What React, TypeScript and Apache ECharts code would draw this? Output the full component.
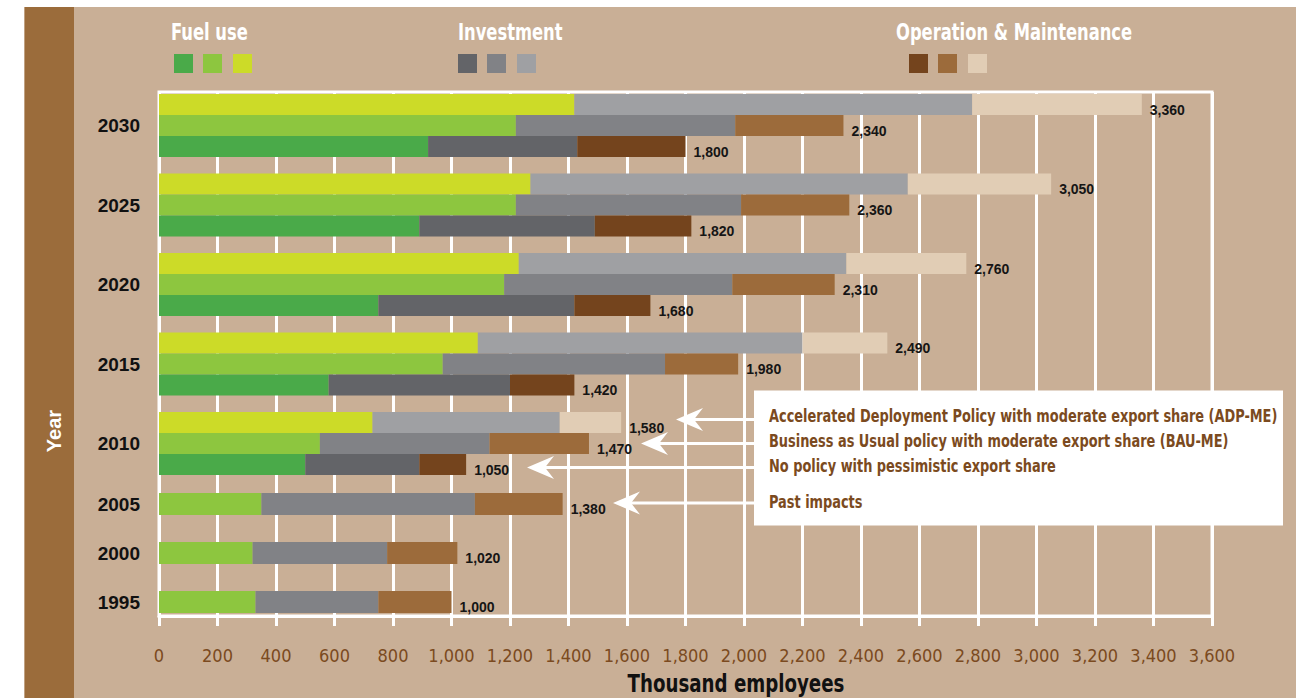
import React, { useEffect, useRef } from 'react';
import * as echarts from 'echarts';

// ---------- data ----------
const years = ['2030', '2025', '2020', '2015', '2010', '2005', '2000', '1995'];
const scenarios = ['ADP-ME', 'BAU-ME', 'No policy'];
const scenarioNotes = [
  'Accelerated Deployment Policy with moderate export share (ADP-ME)',
  'Business as Usual policy with moderate export share (BAU-ME)',
  'No policy with pessimistic export share',
  'Past impacts',
];
// Accelerated Deployment Policy (2030..2010)
const adpFuel = [1420, 1270, 1230, 1090, 730];
const adpInvest = [1360, 1290, 1120, 1110, 640];
const adpOM = [580, 490, 410, 290, 210];
// Business as usual (2030..1995; 2005-1995 are past impacts)
const bauFuel = [1220, 1220, 1180, 970, 550, 350, 320, 330];
const bauInvest = [750, 770, 780, 760, 580, 730, 460, 420];
const bauOM = [370, 370, 350, 250, 340, 300, 240, 250];
// No policy, pessimistic export (2030..2010)
const npFuel = [920, 890, 750, 580, 500];
const npInvest = [510, 600, 670, 620, 390];
const npOM = [370, 330, 260, 220, 160];

const componentNames = ['Fuel use', 'Investment', 'Operation & Maintenance'];
const xMin = 0;
const xMax = 3600;
const xInterval = 200;
const xAxisTitle = 'Thousand employees';
const yAxisTitle = 'Year';

// ---------- styles ----------
const fuelColors = ['#CCDB28', '#8DC63F', '#4AAA49'];
const investColors = ['#9FA0A3', '#818286', '#636468'];
const omColors = ['#E1CDB5', '#9C6B3B', '#74441D'];
const TAN = '#C9AF96';
const STRIP = '#9B6C3B';
const BROWN_TEXT = '#7B4A20';
const NARROW = '"Liberation Sans Narrow", "Arial Narrow", "DejaVu Sans Condensed", sans-serif';
const SANS = '"Liberation Sans", Arial, Helvetica, sans-serif';

const fmt = (v: number) => v.toLocaleString('en-US');

function buildOption() {
  const L = 159;
  const R = 1307 - 1212;
  const grids: any[] = [
    { left: L, right: R, top: 92, height: 524, show: true, borderColor: '#fff', borderWidth: 3, backgroundColor: 'transparent' },
  ];
  const xAxes: any[] = [
    {
      gridIndex: 0, type: 'value', min: xMin, max: xMax, interval: xInterval,
      axisLine: { show: true, lineStyle: { color: '#fff', width: 3 } },
      axisTick: { show: true, length: 10, lineStyle: { color: '#fff', width: 3 } },
      splitLine: { show: true, lineStyle: { color: '#fff', width: 3 } },
      axisLabel: { color: BROWN_TEXT, fontSize: 18, fontFamily: NARROW, margin: 30, formatter: (v: number) => fmt(v) },
    },
  ];
  const yAxes: any[] = [{ gridIndex: 0, type: 'value', min: 0, max: 1, show: false }];
  const series: any[] = [];

  const vals = [
    [adpFuel, bauFuel, npFuel],
    [adpInvest, bauInvest, npInvest],
    [adpOM, bauOM, npOM],
  ];
  const cols = [fuelColors, investColors, omColors];

  // layout of the year bands (pixels)
  const multiTop = 94;
  const multiPeriod = 79.5;
  const multiH = 63;
  const singleTops = [493, 542, 591];
  const singleH = 22;

  years.forEach((yr, i) => {
    const g = i + 1;
    const scen = adpFuel[i] !== undefined ? [0, 1, 2] : [1];
    const top = scen.length === 3 ? multiTop + i * multiPeriod : singleTops[i - 5];
    const height = scen.length === 3 ? multiH : singleH;
    grids.push({ left: L, right: R, top, height, show: false });
    xAxes.push({ gridIndex: g, type: 'value', min: xMin, max: xMax, show: false });
    yAxes.push({
      gridIndex: g, type: 'category', inverse: true,
      data: scen.map((s) => scenarios[s]),
      axisLine: { show: false }, axisTick: { show: false }, axisLabel: { show: false }, splitLine: { show: false },
      name: yr, nameLocation: 'middle', nameRotate: 0, nameGap: 19,
      nameTextStyle: { color: '#111', fontSize: 19, fontWeight: 'bold', fontFamily: SANS, align: 'right', verticalAlign: 'middle', padding: [3, 0, 0, 0] },
    });
    [0, 1, 2].forEach((c) => {
      series.push({
        type: 'bar', name: componentNames[c], xAxisIndex: g, yAxisIndex: g, stack: 'grp' + g,
        barCategoryGap: '0%', silent: true,
        data: scen.map((s) => ({ value: vals[c][s][i], itemStyle: { color: cols[c][s] } })),
        label: c === 2 ? {
          show: true, position: 'right', distance: 8, offset: [0, 5],
          color: '#151515', fontSize: 14, fontWeight: 'bold', fontFamily: SANS,
          formatter: (p: any) => {
            const s = scen[p.dataIndex];
            return fmt(vals[0][s][i] + vals[1][s][i] + vals[2][s][i]);
          },
        } : { show: false },
      });
    });
  });

  // legend graphic
  const legendX = [171, 458, 896];
  const swatchX = [[174, 203, 233], [458, 487, 517], [909, 938, 968]];
  const graphic: any[] = [
    { type: 'rect', z: -10, shape: { x: 24.5, y: 7, width: 1271.5, height: 700 }, style: { fill: TAN } },
    { type: 'rect', z: -9, shape: { x: 24.5, y: 7, width: 49.5, height: 700 }, style: { fill: STRIP } },
    {
      type: 'text', x: 54, y: 431, rotation: Math.PI / 2, z: 10,
      style: { text: yAxisTitle, fill: '#fff', fontSize: 20, fontWeight: 'bold', fontFamily: SANS, align: 'center', verticalAlign: 'middle' },
    },
    {
      type: 'text', x: 736, y: 683, z: 10, scaleX: 0.81,
      style: { text: xAxisTitle, fill: '#111', fontSize: 25, fontWeight: 'bold', fontFamily: NARROW, align: 'center', verticalAlign: 'middle' },
    },
  ];
  componentNames.forEach((n, c) => {
    graphic.push({
      type: 'text', x: legendX[c], y: 32, z: 10, scaleX: 0.79,
      style: { text: n, fill: '#fff', fontSize: 23, fontWeight: 'bold', fontFamily: NARROW, align: 'left', verticalAlign: 'middle' },
    });
    [0, 1, 2].forEach((k) => {
      // order in legend: dark, mid, light
      graphic.push({ type: 'rect', z: 10, shape: { x: swatchX[c][k], y: 54, width: 19, height: 19 }, style: { fill: cols[c][2 - k] } });
    });
  });

  // annotation box
  graphic.push({ type: 'rect', z: 20, shape: { x: 754, y: 390.5, width: 529, height: 135 }, style: { fill: '#fff' } });
  const noteY = [416, 441, 466, 502];
  scenarioNotes.forEach((t, k) => {
    graphic.push({
      type: 'text', x: 769, y: noteY[k], z: 21, scaleX: 0.845,
      style: { text: t, fill: BROWN_TEXT, fontSize: 17, fontWeight: 'bold', fontFamily: NARROW, align: 'left', verticalAlign: 'middle' },
    });
  });
  // arrows: [lineY, tipX]
  const arrows = [[419.5, 676], [443.5, 641], [467.5, 527], [503, 613]];
  arrows.forEach(([ay, tx]) => {
    graphic.push({ type: 'line', z: 20, shape: { x1: tx + 14, y1: ay, x2: 755, y2: ay }, style: { stroke: '#fff', lineWidth: 3 } });
    graphic.push({
      type: 'polygon', z: 20,
      shape: { points: [[tx, ay], [tx + 27, ay - 11.5], [tx + 18, ay], [tx + 27, ay + 11.5]] },
      style: { fill: '#fff' },
    });
  });

  return {
    animation: false,
    backgroundColor: '#fff',
    grid: grids,
    xAxis: xAxes,
    yAxis: yAxes,
    series,
    graphic,
  };
}

export default function App() {
  const ref = useRef<HTMLDivElement>(null);
  useEffect(() => {
    if (!ref.current) return;
    const chart = echarts.init(ref.current, undefined, { renderer: 'svg' });
    chart.setOption(buildOption() as any);
    return () => chart.dispose();
  }, []);
  return <div ref={ref} style={{ position: 'fixed', left: 0, top: 0, width: 1307, height: 698 }} />;
}
